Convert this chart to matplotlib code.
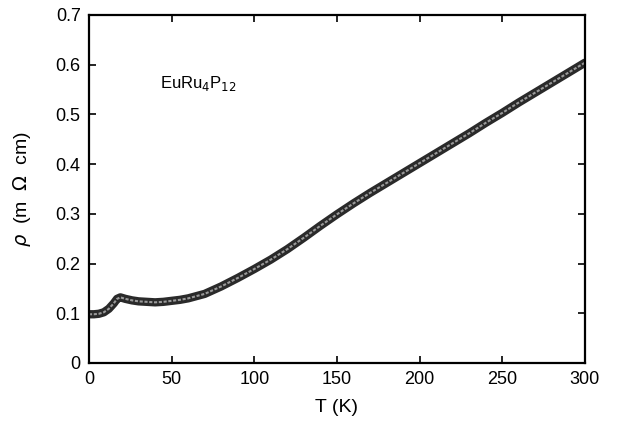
#!usr/bin/env python3

import matplotlib
matplotlib.use("Agg")
import matplotlib.pyplot as plt

# Resistivity of EuRu4P12 versus temperature
temp_K = [0, 3, 6, 9, 12, 15, 17, 19, 22, 26, 30, 35, 40, 45, 50, 55, 60,
          70, 80, 90, 100, 110, 120, 130, 140, 150, 160, 170, 180, 190, 200,
          210, 220, 230, 240, 250, 260, 270, 280, 290, 300]
rho_mOhm_cm = [0.098, 0.098, 0.099, 0.102, 0.109, 0.120, 0.129, 0.132, 0.129,
               0.126, 0.124, 0.123, 0.122, 0.123, 0.125, 0.127, 0.130,
               0.139, 0.154, 0.171, 0.189, 0.208, 0.229, 0.252, 0.276, 0.299,
               0.321, 0.342, 0.362, 0.382, 0.402, 0.422, 0.442, 0.462, 0.483,
               0.503, 0.524, 0.544, 0.564, 0.584, 0.604]

x_ticks = [0, 50, 100, 150, 200, 250, 300]
y_ticks = [0, 0.1, 0.2, 0.3, 0.4, 0.5, 0.6, 0.7]

plt.rcParams['font.family'] = ['Liberation Sans', 'DejaVu Sans']

fig = plt.figure(figsize=(6.17, 4.28), dpi=100)
ax = fig.add_axes([0.1442, 0.1519, 0.8038, 0.8131])

# dark outline with lighter core, like a dense row of open circles
ax.plot(temp_K, rho_mOhm_cm, color='#2a2a2a', lw=6, solid_capstyle='round',
        solid_joinstyle='round')
ax.plot(temp_K, rho_mOhm_cm, color='#9a9a9a', lw=1.5, ls=(0, (1.5, 0.8)))

ax.set_xlim(0, 300)
ax.set_ylim(0, 0.7)
ax.set_xticks(x_ticks)
ax.set_yticks(y_ticks)
ax.set_xticklabels([str(t) for t in x_ticks])
ax.set_yticklabels(['0' if v == 0 else f"{v:.1f}" for v in y_ticks])
ax.tick_params(direction='in', top=True, right=True, length=5, width=1.2,
               labelsize=13, pad=6)
for sp in ax.spines.values():
    sp.set_linewidth(1.6)

ax.text(43, 0.563, r"EuRu$_4$P$_{12}$", fontsize=12, va='center', ha='left')

ax.set_xlabel("T (K)", fontsize=14, labelpad=8)
ax.set_ylabel(r"$\rho$  (m  $\Omega$  cm)", fontsize=14, labelpad=16)

plt.savefig("out.png", dpi=100)
plt.close()
